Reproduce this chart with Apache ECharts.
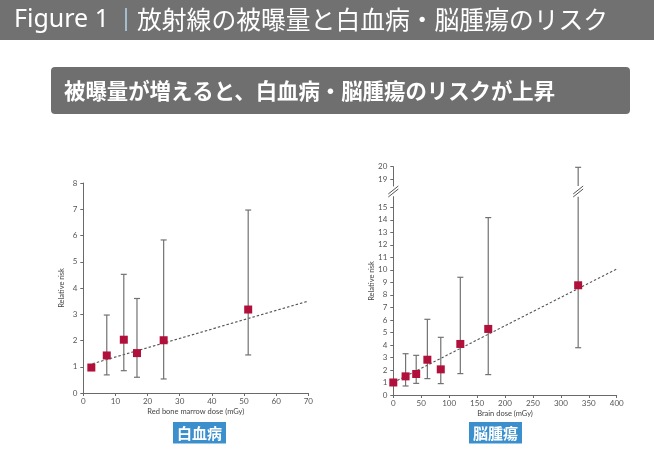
<!DOCTYPE html>
<html><head><meta charset="utf-8">
<script src="https://cdn.jsdelivr.net/npm/echarts@6/dist/echarts.min.js"></script>
<style>html,body{margin:0;padding:0;background:#fff}#c{width:654px;height:452px}</style>
</head><body><div id="c"></div>
<script>
// ---- Data: leukaemia (red bone marrow dose) ----
var leukDose = [2.5, 7.3, 12.6, 16.7, 25.0, 51.3];
var leukRR   = [0.97, 1.43, 2.03, 1.52, 2.01, 3.18];
var leukLow  = [null, 0.69, 0.85, 0.60, 0.535, 1.45];
var leukHigh = [null, 2.97, 4.52, 3.60, 5.83, 6.97];
var leukFitX = [1.5, 70];
var leukFitY = [1.07, 3.5];
var leukXTicks = [0, 10, 20, 30, 40, 50, 60, 70];
var leukYTicks = [0, 1, 2, 3, 4, 5, 6, 7, 8];

// ---- Data: brain tumours (brain dose) ----
var brainDose = [0, 22, 41, 61, 85, 120, 170, 331];
var brainRR   = [1.0, 1.49, 1.68, 2.82, 2.05, 4.08, 5.28, 8.77];
var brainLow  = [null, 0.72, 0.93, 1.31, 0.91, 1.71, 1.63, 3.78];
var brainHigh = [null, 3.30, 3.17, 6.05, 4.61, 9.41, 14.18, 19.95];
var brainFitX = [0, 400];
var brainFitY = [1.0, 10.07];
var brainXTicks = [0, 50, 100, 150, 200, 250, 300, 350, 400];
var brainYTicksLower = [0,1,2,3,4,5,6,7,8,9,10,11,12,13,14,15];
var brainYTicksUpper = [19, 20];
var brainBreakAt = [0, 331];

var titleLatin = 'Figure 1';
var titleJa = '放射線の被曝量と白血病・脳腫瘍のリスク';
var subtitle = '被曝量が増えると、白血病・脳腫瘍のリスクが上昇';
var labelLeft = '白血病';
var labelRight = '脳腫瘍';
var xNameLeft = 'Red bone marrow dose (mGy)';
var xNameRight = 'Brain dose (mGy)';
var yName = 'Relative risk';

function zip(a, b) { return a.map(function (v, i) { return [v, b[i]]; }); }
function errData(x, lo, hi) {
  var out = [];
  x.forEach(function (v, i) { if (lo[i] != null) out.push([v, lo[i], hi[i]]); });
  return out;
}

var barColor = '#727272';
var axisColor = '#6a6a6a';
var labelColor = '#555';
var markColor = '#b0103a';
var FONT = 'Lato, "Open Sans", sans-serif';

function errRender(params, api) {
  var x = api.value(0), lo = api.value(1), hi = api.value(2);
  var cs = params.coordSys;
  var pLo = api.coord([x, lo]), pHi = api.coord([x, hi]);
  var top = cs.y, bot = cs.y + cs.height;
  var y1 = Math.max(pHi[1], top), y2 = Math.min(pLo[1], bot);
  if (y1 >= y2) return null;
  var px = pLo[0];
  var st = { stroke: barColor, lineWidth: 1.2 };
  var ch = [{ type: 'line', shape: { x1: px, y1: y1, x2: px, y2: y2 }, style: st }];
  if (pHi[1] >= top - 0.5) ch.push({ type: 'line', shape: { x1: px - 3, y1: pHi[1], x2: px + 3, y2: pHi[1] }, style: st });
  if (pLo[1] <= bot + 0.5) ch.push({ type: 'line', shape: { x1: px - 3, y1: pLo[1], x2: px + 3, y2: pLo[1] }, style: st });
  return { type: 'group', children: ch };
}
function breakRender(params, api) {
  var x = api.coord([api.value(0), 0])[0];
  var top = params.coordSys.y;
  var st = { stroke: '#555', lineWidth: 1 };
  return { type: 'group', children: [
    { type: 'line', shape: { x1: x - 5, y1: top - 2.7, x2: x + 5, y2: top - 10.7 }, style: st },
    { type: 'line', shape: { x1: x - 5, y1: top + 0.3, x2: x + 5, y2: top - 7.7 }, style: st }
  ]};
}

function xAxisCfg(grid, max, interval, ticks, name, show) {
  return {
    type: 'value', gridIndex: grid, min: 0, max: max, interval: interval, show: show,
    name: name, nameLocation: 'middle', nameGap: 15,
    nameTextStyle: { fontSize: 7.5, color: '#444', fontFamily: FONT },
    axisLine: { show: true, lineStyle: { color: axisColor, width: 1 } },
    axisTick: { show: true, length: 3, lineStyle: { color: axisColor }, customValues: ticks },
    axisLabel: { fontSize: 8, color: labelColor, margin: 4, fontFamily: FONT, customValues: ticks },
    splitLine: { show: false }
  };
}
function yAxisCfg(grid, min, max, ticks, name) {
  return {
    type: 'value', gridIndex: grid, min: min, max: max,
    name: name, nameLocation: 'middle', nameGap: 18,
    nameTextStyle: { fontSize: 7.5, color: '#444', fontFamily: FONT },
    axisLine: { show: true, lineStyle: { color: axisColor, width: 1 } },
    axisTick: { show: true, length: 3, lineStyle: { color: axisColor }, customValues: ticks },
    axisLabel: { fontSize: 8, color: labelColor, margin: 6, fontFamily: FONT, customValues: ticks },
    splitLine: { show: false }
  };
}

var chart = echarts.init(document.getElementById('c'), null, { renderer: 'canvas' });
chart.setOption({
  backgroundColor: '#fff',
  animation: false,
  grid: [
    { left: 83.3, top: 183, width: 225, height: 210 },
    { left: 393.3, top: 196.7, width: 223.4, height: 198.3 },
    { left: 393.3, top: 166.7, width: 223.4, height: 19.3 }
  ],
  xAxis: [
    xAxisCfg(0, 70, 10, leukXTicks, xNameLeft, true),
    xAxisCfg(1, 400, 50, brainXTicks, xNameRight, true),
    xAxisCfg(2, 400, 50, [], '', false)
  ],
  yAxis: [
    yAxisCfg(0, 0, 8, leukYTicks, yName),
    yAxisCfg(1, 0, 15.85, brainYTicksLower, ''),
    yAxisCfg(2, 18.45, 20, brainYTicksUpper, '')
  ],
  series: [
    { type: 'line', xAxisIndex: 0, yAxisIndex: 0, data: zip(leukFitX, leukFitY), showSymbol: false, silent: true,
      lineStyle: { color: '#555', width: 1.1, type: [2.5, 2] }, z: 2 },
    { type: 'custom', xAxisIndex: 0, yAxisIndex: 0, data: errData(leukDose, leukLow, leukHigh),
      renderItem: errRender, clip: false, encode: { x: 0, y: [1, 2] }, z: 3 },
    { type: 'scatter', xAxisIndex: 0, yAxisIndex: 0, data: zip(leukDose, leukRR), symbol: 'rect', symbolSize: 8,
      itemStyle: { color: markColor, opacity: 1 }, z: 5 },

    { type: 'line', xAxisIndex: 1, yAxisIndex: 1, data: zip(brainFitX, brainFitY), showSymbol: false, silent: true,
      lineStyle: { color: '#555', width: 1.1, type: [2.5, 2] }, z: 2 },
    { type: 'custom', xAxisIndex: 1, yAxisIndex: 1, data: errData(brainDose, brainLow, brainHigh),
      renderItem: errRender, clip: false, encode: { x: 0, y: [1, 2] }, z: 3 },
    { type: 'custom', xAxisIndex: 2, yAxisIndex: 2, data: errData(brainDose, brainLow, brainHigh),
      renderItem: errRender, clip: false, encode: { x: 0, y: [1, 2] }, z: 3 },
    { type: 'custom', xAxisIndex: 1, yAxisIndex: 1, data: brainBreakAt.map(function (v) { return [v]; }),
      renderItem: breakRender, clip: false, encode: { x: 0 }, z: 4 },
    { type: 'scatter', xAxisIndex: 1, yAxisIndex: 1, data: zip(brainDose, brainRR), symbol: 'rect', symbolSize: 8,
      itemStyle: { color: markColor, opacity: 1 }, z: 5 }
  ],
  graphic: [
    { type: 'rect', shape: { x: 0, y: 0, width: 654, height: 40 }, style: { fill: '#717171' }, z: 0 },
    { type: 'text', x: 14, y: 20, style: { text: titleLatin, fill: '#fff', font: '25px "Noto Sans", sans-serif', verticalAlign: 'middle' } },
    { type: 'line', shape: { x1: 126, y1: 8, x2: 126, y2: 31 }, style: { stroke: '#b5d6ee', lineWidth: 1.5 } },
    { type: 'text', x: 137, y: 20, style: { text: titleJa, fill: '#fff', font: '24.8px "Noto Sans CJK JP", sans-serif', verticalAlign: 'middle' } },
    { type: 'rect', shape: { x: 51, y: 67, width: 579, height: 47, r: 4 }, style: { fill: '#6f6f6f' } },
    { type: 'text', x: 64, y: 90.5, style: { text: subtitle, fill: '#fff', font: 'bold 21.4px "Noto Sans CJK JP", sans-serif', verticalAlign: 'middle' } },
    { type: 'rect', shape: { x: 173, y: 422, width: 53, height: 21.5 }, style: { fill: '#3b8fcd' } },
    { type: 'text', x: 199.5, y: 432.8, style: { text: labelLeft, fill: '#fff', font: 'bold 15px "Noto Sans CJK JP", sans-serif', align: 'center', verticalAlign: 'middle' } },
    { type: 'rect', shape: { x: 469, y: 422, width: 53, height: 21.5 }, style: { fill: '#3b8fcd' } },
    { type: 'text', x: 495.5, y: 432.8, style: { text: labelRight, fill: '#fff', font: 'bold 15px "Noto Sans CJK JP", sans-serif', align: 'center', verticalAlign: 'middle' } },
    { type: 'text', x: 371.7, y: 281, rotation: Math.PI / 2, style: { text: yName, fill: '#444', font: '7.5px Lato, sans-serif', align: 'center', verticalAlign: 'middle' } }
  ]
});
</script></body></html>
